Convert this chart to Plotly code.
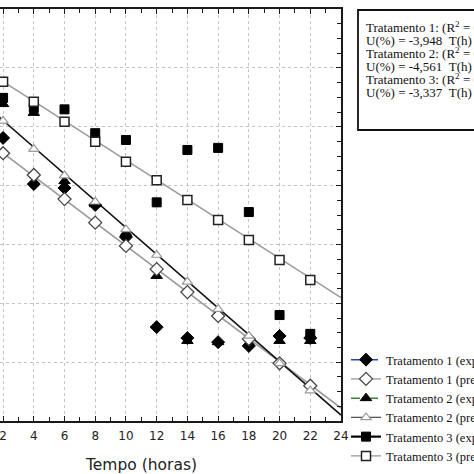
import plotly.graph_objects as go

# ---------------- data ----------------
hours = [2, 4, 6, 8, 10, 12, 14, 16, 18, 20, 22]
t1_exp = [96.2, 80.5, 79.2, 73.4, 62.5, 31.9, 28.2, 26.8, 25.5, 28.9, 28.2]
t1_pred = [91.0, 83.6, 75.4, 67.4, 59.5, 51.6, 43.8, 35.7, 27.9, 19.6, 12.0]
t2_exp = [107.7, 104.7, 81.5, 73.7, 63.9, 49.3, 27.2, 26.8, 26.5, 27.2, 27.2]
t2_pred = [102.0, 92.4, 83.4, 74.5, 65.1, 56.4, 47.3, 38.0, 28.9, 19.6, 10.3]
t3_exp = [109.8, 106.4, 105.9, 97.8, 95.5, 74.3, 92.1, 92.8, 71.0, 36.0, 29.6]
t3_pred = [115.3, 108.5, 101.7, 94.9, 88.1, 81.8, 75.1, 68.3, 61.5, 54.7, 47.9]

fit_hours = [0, 24]
t1_fit = [98.9, 4.4]
t2_fit = [111.2, 2.0]
t3_fit = [122.0, 41.9]

x_ticks = [2, 4, 6, 8, 10, 12, 14, 16, 18, 20, 22, 24]

legend_names = [
    "Tratamento 1 (experimental)",
    "Tratamento 1 (predito)",
    "Tratamento 2 (experimental)",
    "Tratamento 2 (predito)",
    "Tratamento 3 (experimental)",
    "Tratamento 3 (predito)",
]

equation_lines = [
    "Tratamento 1: (R<sup>2</sup> = 0,9612)",
    "U(%) = -3,948\u00a0\u00a0T(h) + 98,87",
    "Tratamento 2: (R<sup>2</sup> = 0,9475)",
    "U(%) = -4,561\u00a0\u00a0T(h) + 111,16",
    "Tratamento 3: (R<sup>2</sup> = 0,9203)",
    "U(%) = -3,337\u00a0\u00a0T(h) + 121,98",
]


def isolated(xs, ys):
    """Separate points by gaps so no connecting line is drawn in the plot
    (the legend still shows the trace's line sample)."""
    ox, oy = [], []
    for x, y in zip(xs, ys):
        ox += [x, None]
        oy += [y, None]
    return ox, oy


# ---------------- geometry ----------------
W, H = 474, 474
L, R, T, B = 0, 133, 9, 53
PW, PH = W - L - R, H - T - B


def px(xp):
    return (xp - L) / PW


def py(yp):
    return (H - B - yp) / PH


fig = go.Figure()

# fitted lines
for xs, ys, col, w in [
    (fit_hours, t1_fit, "#9a9a9a", 1.5),
    (fit_hours, t3_fit, "#9a9a9a", 1.5),
    (fit_hours, t2_fit, "#111111", 1.5),
]:
    fig.add_trace(go.Scatter(x=xs, y=ys, mode="lines", showlegend=False,
                             hoverinfo="skip", line=dict(color=col, width=w)))

series = [
    (legend_names[0], t1_exp, dict(symbol="diamond", size=10, color="#000000",
                                   line=dict(color="#000000", width=1)),
     dict(color="#2a46b8", width=1.5, dash="dash"), 1),
    (legend_names[2], t2_exp, dict(symbol="triangle-up", size=10, color="#000000",
                                   line=dict(color="#000000", width=1)),
     dict(color="#2e8b3a", width=1.5, dash="dash"), 3),
    (legend_names[4], t3_exp, dict(symbol="square", size=9, color="#000000",
                                   line=dict(color="#000000", width=1)),
     dict(color="#000000", width=2.2), 5),
    (legend_names[1], t1_pred, dict(symbol="diamond", size=10, color="#ffffff",
                                    line=dict(color="#444444", width=1.3)),
     dict(color="#9a9a9a", width=1.3), 2),
    (legend_names[3], t2_pred, dict(symbol="triangle-up", size=9, color="#ffffff",
                                    line=dict(color="#9a9a9a", width=1.2)),
     dict(color="#555555", width=1.3), 4),
    (legend_names[5], t3_pred, dict(symbol="square", size=9, color="#ffffff",
                                    line=dict(color="#222222", width=1.5)),
     dict(color="#9a9a9a", width=1.3), 6),
]

for name, vals, mk, ln, rank in series:
    xs, ys = isolated(hours, vals)
    fig.add_trace(go.Scatter(x=xs, y=ys, mode="lines+markers", name=name,
                             connectgaps=False, marker=mk, line=ln,
                             legendrank=rank))

# equation box
fig.add_shape(type="rect", xref="paper", yref="paper",
              x0=px(358), x1=px(490), y0=py(130), y1=py(10),
              line=dict(color="#111111", width=1.8), fillcolor="rgba(0,0,0,0)")
for i, txt in enumerate(equation_lines):
    fig.add_annotation(xref="paper", yref="paper", x=px(364), y=py(27 + i * 13.1),
                       xanchor="left", yanchor="middle", text=txt, showarrow=False,
                       font=dict(family="Liberation Serif", size=13, color="#111111"))

# x axis title
fig.add_annotation(xref="paper", yref="paper", x=px(141), y=py(465),
                   xanchor="center", yanchor="middle", text="Tempo (horas)",
                   showarrow=False,
                   font=dict(family="DejaVu Sans", size=15.5, color="#222222"))

fig.update_layout(
    template="none",
    width=W, height=H,
    margin=dict(l=L, r=R, t=T, b=B, autoexpand=False),
    paper_bgcolor="white", plot_bgcolor="white",
    showlegend=True,
    legend=dict(x=px(346), y=py(345), xanchor="left", yanchor="top",
                bgcolor="rgba(0,0,0,0)", borderwidth=0,
                font=dict(family="Liberation Serif", size=12.5, color="#111111"),
                traceorder="normal"),
    xaxis=dict(range=[1.8, 24], tickmode="array", tickvals=x_ticks,
               ticktext=[str(v) for v in x_ticks],
               showgrid=True, gridcolor="#c4c4c4", griddash="dot", gridwidth=1,
               showline=True, linecolor="#1a1a1a", linewidth=2, mirror="ticks",
               ticks="inside", ticklen=5, tickcolor="#1a1a1a", tickwidth=1.2,
               minor=dict(dtick=1, tick0=0, ticks="inside", ticklen=4,
                          tickcolor="#1a1a1a", tickwidth=1.2, showgrid=False),
               tickfont=dict(family="DejaVu Sans", size=12, color="#222222"),
               ticklabeloverflow="allow", ticklabelstandoff=3,
               zeroline=False, automargin=False),
    yaxis=dict(range=[0, 140], tick0=0, dtick=20, side="right",
               showgrid=True, gridcolor="#c4c4c4", griddash="dot", gridwidth=1,
               showline=True, linecolor="#1a1a1a", linewidth=2,
               ticks="inside", ticklen=5, tickcolor="#1a1a1a", tickwidth=1.2,
               minor=dict(dtick=5, tick0=0, ticks="inside", ticklen=4,
                          tickcolor="#1a1a1a", tickwidth=1.2, showgrid=False),
               showticklabels=False, zeroline=False, automargin=False),
)

fig.write_html("out.html",
               config={"displayModeBar": False},
               post_script="document.body.style.margin='0';"
                           "document.body.style.overflow='hidden';")
